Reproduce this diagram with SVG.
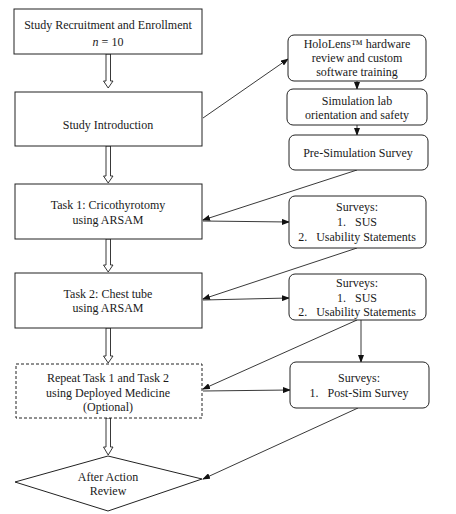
<svg xmlns="http://www.w3.org/2000/svg" width="456" height="514" viewBox="0 0 456 514">
<style>
text{font-family:"Liberation Serif","Times New Roman","DejaVu Serif",serif;font-size:12px;fill:#1a1a1a;text-anchor:middle;white-space:pre}
.box{fill:#fff;stroke:#222;stroke-width:1}
.dash{fill:#fff;stroke:#222;stroke-width:1;stroke-dasharray:3,2}
.rbox{fill:#fff;stroke:#222;stroke-width:1}
.hollow{fill:#fff;stroke:#222;stroke-width:0.9}
.ln{fill:none;stroke:#222;stroke-width:0.9}
</style>
<defs>
<marker id="ah" markerWidth="8" markerHeight="6" refX="7" refY="3" orient="auto" markerUnits="userSpaceOnUse">
<path d="M0,0 L8,3 L0,6 Z" fill="#111"/>
</marker>
</defs>
<rect width="456" height="514" fill="#fff"/>
<g id="connectors">
<path class="hollow" d="M106,54 V81 H103.5 L108.2,88 L113,81 H110.5 V54 Z"/>
<path class="hollow" d="M106,146 V176 H103.5 L108.2,183 L113,176 H110.5 V146 Z"/>
<path class="hollow" d="M106,239 V265 H103.5 L108.2,272 L113,265 H110.5 V239 Z"/>
<path class="hollow" d="M106,328 V356 H103.5 L108.2,363 L113,356 H110.5 V328 Z"/>
<path class="hollow" d="M106,418 V447 H103.5 L108.2,455 L113,447 H110.5 V418 Z"/>
<line class="ln" x1="203" y1="118" x2="288" y2="59" marker-end="url(#ah)"/>
<line class="ln" x1="357" y1="81" x2="357" y2="89" marker-end="url(#ah)"/>
<line class="ln" x1="357" y1="125" x2="357" y2="135" marker-end="url(#ah)"/>
<line class="ln" x1="357" y1="170" x2="203" y2="220" marker-end="url(#ah)"/>
<line class="ln" x1="203" y1="221" x2="289" y2="222" marker-end="url(#ah)"/>
<line class="ln" x1="357" y1="248" x2="203" y2="299" marker-end="url(#ah)"/>
<line class="ln" x1="203" y1="300" x2="289" y2="298" marker-end="url(#ah)"/>
<line class="ln" x1="357" y1="320" x2="203" y2="389" marker-end="url(#ah)"/>
<line class="ln" x1="361" y1="320" x2="361" y2="362" marker-end="url(#ah)"/>
<line class="ln" x1="203" y1="391" x2="290" y2="390" marker-end="url(#ah)"/>
<line class="ln" x1="358" y1="408" x2="203" y2="479" marker-end="url(#ah)"/>
</g>
<g id="recruit">
<rect class="box" x="14" y="9" width="188" height="45"/>
<text x="108" y="29">Study Recruitment and Enrollment</text>
<text x="108" y="46"><tspan font-style="italic">n</tspan> = 10</text>
</g>
<g id="intro">
<rect class="box" x="15" y="92" width="187" height="54"/>
<text x="108" y="129">Study Introduction</text>
</g>
<g id="task1">
<rect class="box" x="15" y="184" width="187" height="55"/>
<text x="108" y="209">Task 1: Cricothyrotomy</text>
<text x="108" y="224">using ARSAM</text>
</g>
<g id="task2">
<rect class="box" x="15" y="273" width="187" height="55"/>
<text x="108" y="298">Task 2: Chest tube</text>
<text x="108" y="312">using ARSAM</text>
</g>
<g id="repeat">
<rect class="dash" x="16" y="364" width="186" height="54"/>
<text x="108" y="382">Repeat Task 1 and Task 2</text>
<text x="108" y="397">using Deployed Medicine</text>
<text x="108" y="411">(Optional)</text>
</g>
<g id="aar">
<polygon class="box" points="108,456 202,479 108,511 15,482"/>
<text x="108" y="481">After Action</text>
<text x="108" y="495">Review</text>
</g>
<g id="hololens">
<rect class="rbox" x="288" y="35" width="138" height="46" rx="6"/>
<text x="357" y="48">HoloLens™ hardware</text>
<text x="357" y="62">review and custom</text>
<text x="357" y="76">software training</text>
</g>
<g id="simlab">
<rect class="rbox" x="287" y="89" width="140" height="36" rx="6"/>
<text x="357" y="105">Simulation lab</text>
<text x="357" y="119">orientation and safety</text>
</g>
<g id="presim">
<rect class="rbox" x="289" y="135" width="139" height="35" rx="6"/>
<text x="358" y="157">Pre-Simulation Survey</text>
</g>
<g id="survey1">
<rect class="rbox" x="289" y="196" width="137" height="52" rx="6"/>
<text x="357" y="211">Surveys:</text>
<text x="357" y="226">1.   SUS</text>
<text x="357" y="241">2.   Usability Statements</text>
</g>
<g id="survey2">
<rect class="rbox" x="289" y="274" width="137" height="46" rx="6"/>
<text x="357" y="287">Surveys:</text>
<text x="357" y="302">1.   SUS</text>
<text x="357" y="316">2.   Usability Statements</text>
</g>
<g id="survey3">
<rect class="rbox" x="290" y="362" width="139" height="46" rx="6"/>
<text x="359" y="382">Surveys:</text>
<text x="359" y="397">1.   Post-Sim Survey</text>
</g>
</svg>
